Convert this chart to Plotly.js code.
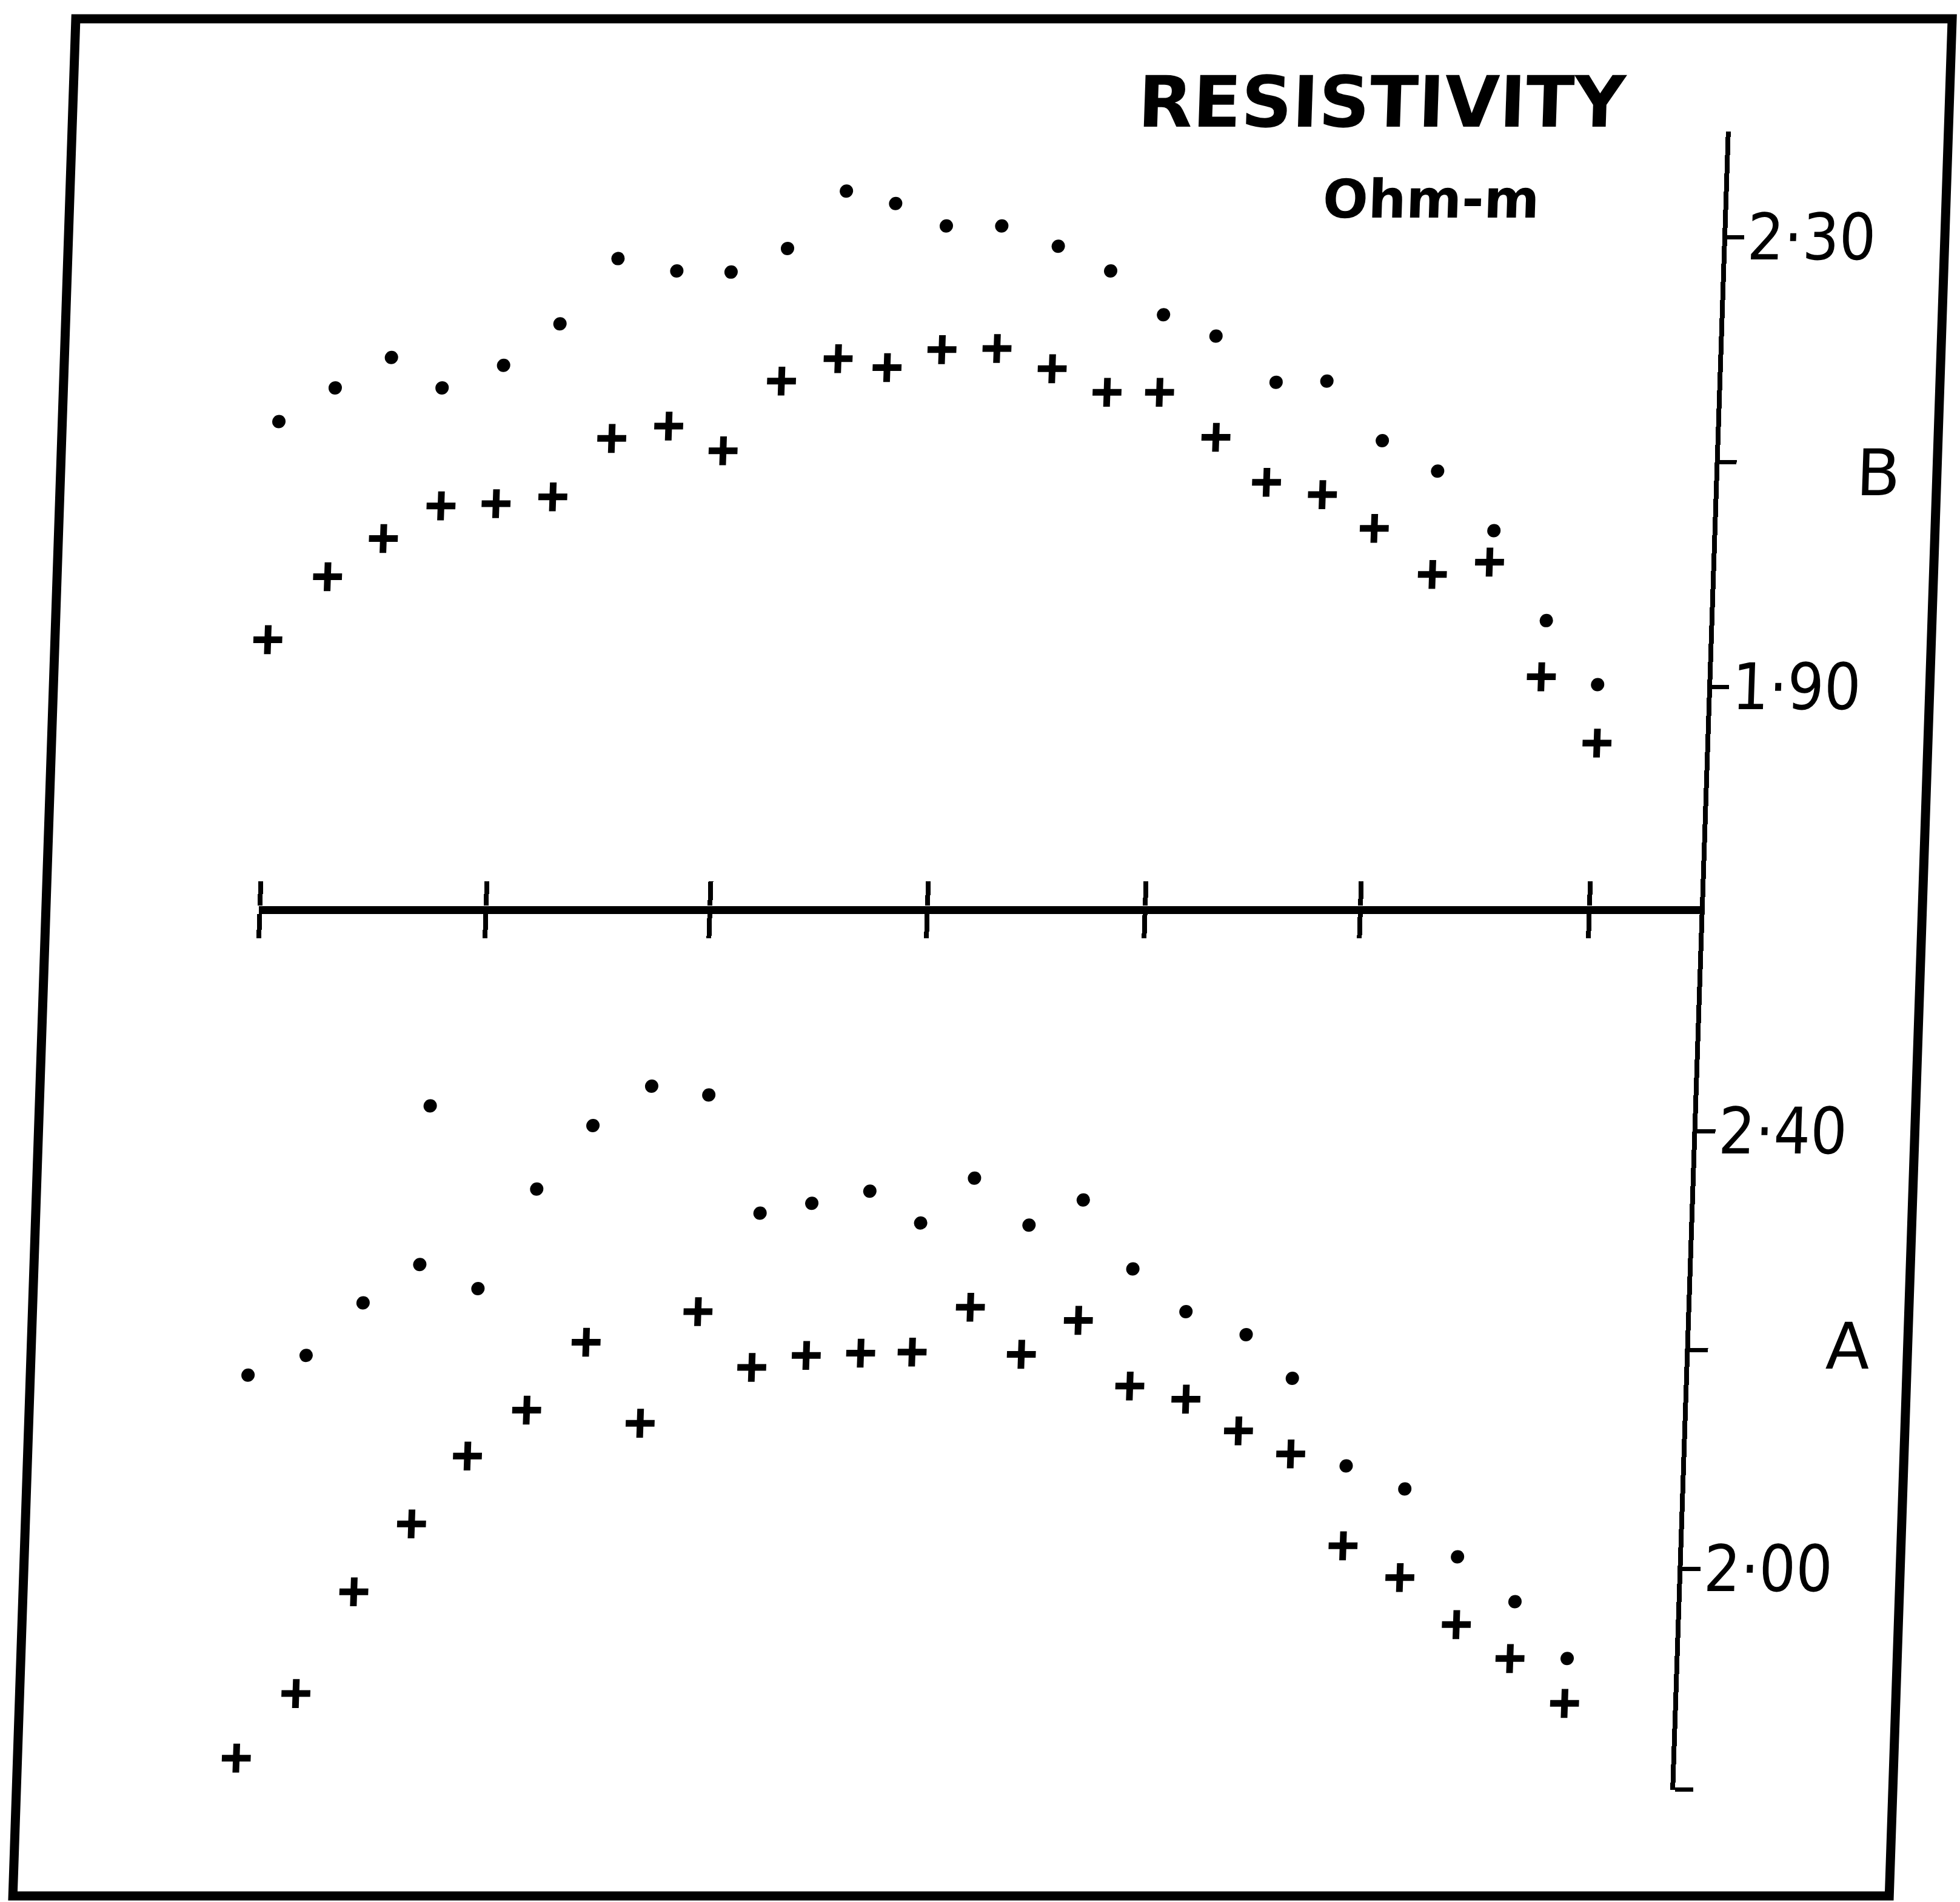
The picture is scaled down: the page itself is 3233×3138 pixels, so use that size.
<!DOCTYPE html>
<html>
<head>
<meta charset="utf-8">
<script src="https://cdn.plot.ly/plotly-3.0.1.min.js"></script>
<style>
  html, body { margin: 0; padding: 0; background: #ffffff; overflow: hidden; }
  #plot { width: 3233px; height: 3138px; transform: skewX(-1.92deg); transform-origin: 0px 1495px; }
</style>
</head>
<body>
<div id="plot"></div>
<script>
// Profile B (upper panel): distance along profile (axis tick units) and resistivity
const B_dotsDist    = [0.017, 0.266, 0.515, 0.748, 1.022, 1.270, 1.522, 1.789, 2.034, 2.285, 2.542, 2.766, 2.998, 3.248, 3.506, 3.746, 3.991, 4.231, 4.509, 4.738, 4.997, 5.251, 5.514, 5.764, 6.005];
const B_dots        = [2.136, 2.166, 2.193, 2.166, 2.186, 2.223, 2.281, 2.270, 2.269, 2.290, 2.341, 2.330, 2.310, 2.310, 2.292, 2.270, 2.231, 2.212, 2.171, 2.172, 2.119, 2.092, 2.039, 1.959, 1.902];
const B_crossesDist = [0.000, 0.260, 0.506, 0.761, 1.009, 1.264, 1.521, 1.776, 2.025, 2.278, 2.530, 2.752, 2.997, 3.245, 3.497, 3.748, 3.985, 4.246, 4.481, 4.735, 4.974, 5.243, 5.499, 5.750, 6.011];
const B_crosses     = [1.942, 1.998, 2.032, 2.061, 2.063, 2.069, 2.121, 2.132, 2.110, 2.172, 2.192, 2.184, 2.200, 2.201, 2.183, 2.162, 2.162, 2.122, 2.082, 2.071, 2.041, 2.000, 2.011, 1.909, 1.850];

// Profile A (lower panel)
const A_dotsDist    = [0.022, 0.281, 0.530, 0.780, 0.803, 1.046, 1.296, 1.540, 1.799, 2.058, 2.307, 2.539, 2.799, 3.033, 3.269, 3.522, 3.763, 3.997, 4.243, 4.518, 4.733, 4.989, 5.257, 5.505, 5.771, 6.015];
const A_dots        = [2.177, 2.195, 2.243, 2.278, 2.423, 2.256, 2.347, 2.405, 2.441, 2.433, 2.325, 2.334, 2.345, 2.316, 2.357, 2.314, 2.337, 2.274, 2.235, 2.214, 2.174, 2.094, 2.073, 2.011, 1.970, 1.918];
const A_crossesDist = [0.027, 0.286, 0.532, 0.782, 1.024, 1.284, 1.542, 1.798, 2.042, 2.293, 2.537, 2.782, 3.014, 3.270, 3.507, 3.759, 4.001, 4.256, 4.498, 4.737, 4.987, 5.248, 5.510, 5.757, 6.010];
const A_crosses     = [1.827, 1.886, 1.979, 2.041, 2.103, 2.145, 2.207, 2.133, 2.235, 2.184, 2.195, 2.197, 2.198, 2.239, 2.196, 2.227, 2.167, 2.155, 2.126, 2.105, 2.021, 1.992, 1.949, 1.918, 1.877];

// Axis ticks and labels
const xTicks = [0.005, 1.025, 2.035, 3.016, 3.998, 4.969, 6.002];
const B_tickVals = [1.9, 2.1, 2.3];
const B_tickText = ['1·90', '', '2·30'];
const A_tickVals = [1.7985, 2.0, 2.2, 2.4];
const A_tickText = ['', '2·00', '', '2·40'];

const black = '#000000';
const dotMarker = { symbol: 'circle', size: 22, color: black };
const crossMarker = { symbol: 'cross-thin', size: 34, color: black, line: { width: 11, color: black } };

const traces = [
  { x: B_dotsDist, y: B_dots, xaxis: 'x', yaxis: 'y', mode: 'markers', marker: dotMarker, cliponaxis: false, showlegend: false },
  { x: B_crossesDist, y: B_crosses, xaxis: 'x', yaxis: 'y', mode: 'markers', marker: crossMarker, cliponaxis: false, showlegend: false },
  { x: A_dotsDist, y: A_dots, xaxis: 'x2', yaxis: 'y2', mode: 'markers', marker: dotMarker, cliponaxis: false, showlegend: false },
  { x: A_crossesDist, y: A_crosses, xaxis: 'x2', yaxis: 'y2', mode: 'markers', marker: crossMarker, cliponaxis: false, showlegend: false }
];

const tickFont = { family: 'Liberation Sans Narrow, DejaVu Sans Condensed, sans-serif', size: 106, color: black };
const split = 0.5329;

const layout = {
  width: 3233,
  height: 3138,
  margin: { l: 427, r: 429, t: 217, b: 185, pad: 0 },
  paper_bgcolor: '#ffffff',
  plot_bgcolor: 'rgba(0,0,0,0)',
  showlegend: false,
  title: {
    text: 'RESISTIVITY',
    x: 0.6913, y: 0.9465, xanchor: 'center', yanchor: 'middle',
    xref: 'container', yref: 'container',
    font: { family: 'DejaVu Sans', size: 117, color: black, weight: 'bold' }
  },
  xaxis: {
    domain: [0, 1], range: [0, 6.5], anchor: 'y', side: 'bottom',
    showline: true, linewidth: 13, linecolor: black,
    ticks: 'outside', ticklen: 40, tickwidth: 8, tickcolor: black,
    tickmode: 'array', tickvals: xTicks, showticklabels: false,
    showgrid: false, zeroline: false, fixedrange: true
  },
  xaxis2: {
    domain: [0, 1], range: [0, 6.5], anchor: 'y2', side: 'top',
    showline: false,
    ticks: 'outside', ticklen: 40, tickwidth: 8, tickcolor: black,
    tickmode: 'array', tickvals: xTicks, showticklabels: false,
    showgrid: false, zeroline: false, fixedrange: true
  },
  yaxis: {
    domain: [split, 1], range: [1.705, 2.394], anchor: 'x', side: 'right',
    showline: true, linewidth: 8, linecolor: black,
    ticks: 'outside', ticklen: 28, tickwidth: 7, tickcolor: black,
    tickmode: 'array', tickvals: B_tickVals, ticktext: B_tickText,
    tickfont: tickFont, ticklabelstandoff: -16,
    showgrid: false, zeroline: false, fixedrange: true
  },
  yaxis2: {
    domain: [0, split], range: [1.798, 2.6055], anchor: 'x2', side: 'right',
    showline: true, linewidth: 8, linecolor: black,
    ticks: 'outside', ticklen: 30, tickwidth: 7, tickcolor: black,
    tickmode: 'array', tickvals: A_tickVals, ticktext: A_tickText,
    tickfont: tickFont, ticklabelstandoff: -16,
    showgrid: false, zeroline: false, fixedrange: true
  },
  annotations: [
    { text: 'Ohm-m', xref: 'paper', yref: 'paper', x: 0.797, y: 0.9594, xanchor: 'center', yanchor: 'middle', showarrow: false,
      font: { family: 'DejaVu Sans', size: 88, color: black, weight: 'bold' } },
    { text: 'B', xref: 'paper', yref: 'paper', x: 1.114, y: 0.7939, xanchor: 'center', yanchor: 'middle', showarrow: false,
      font: { family: 'DejaVu Sans', size: 106, color: black } },
    { text: 'A', xref: 'paper', yref: 'paper', x: 1.113, y: 0.2675, xanchor: 'center', yanchor: 'middle', showarrow: false,
      font: { family: 'DejaVu Sans', size: 106, color: black } }
  ],
  shapes: [
    { type: 'rect', xref: 'paper', yref: 'paper', x0: -0.1477, x1: 1.1544, y0: -0.064, y1: 1.068,
      line: { color: black, width: 15 }, fillcolor: 'rgba(0,0,0,0)', layer: 'below' }
  ]
};

Plotly.newPlot('plot', traces, layout, { displayModeBar: false, staticPlot: true });
</script>
</body>
</html>
